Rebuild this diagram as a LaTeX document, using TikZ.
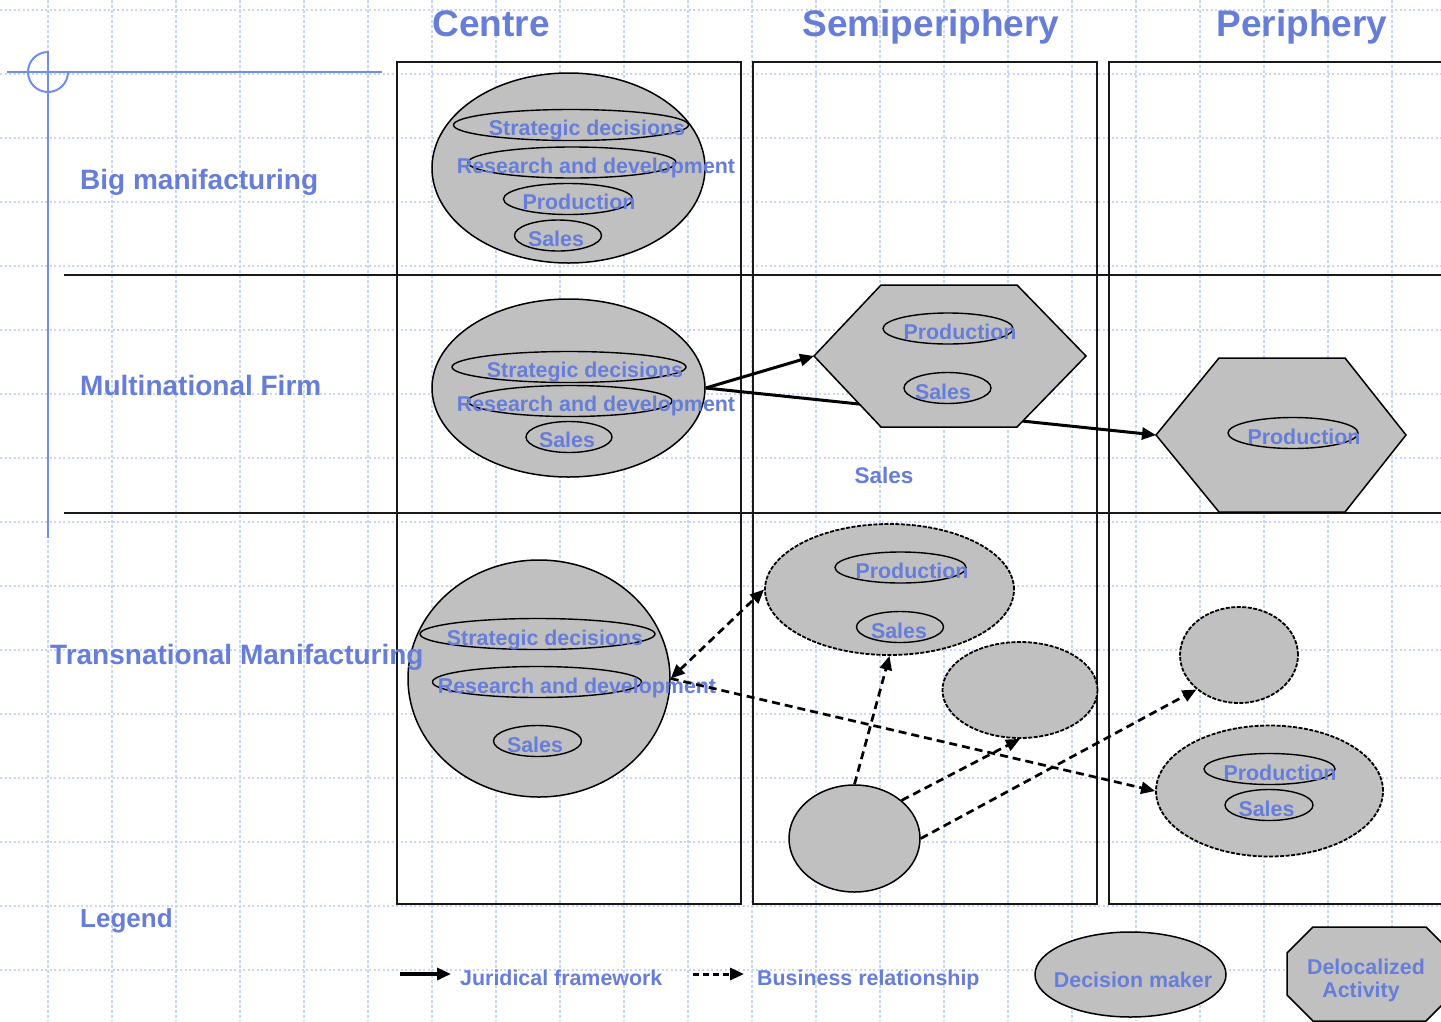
\documentclass[tikz,border=0pt]{standalone}
\usepackage{fontspec}
\setmainfont{Liberation Sans}
\usetikzlibrary{shapes.geometric,arrows.meta}

\definecolor{txtblue}{RGB}{102,125,217}
\definecolor{rulerblue}{RGB}{112,142,240}
\definecolor{gridblue}{RGB}{200,214,248}
\definecolor{shapegray}{RGB}{192,192,192}

\tikzset{
  gridv/.style={gridblue, line width=1.3pt, dash pattern=on 3pt off 2pt},
  gridh/.style={gridblue, line width=1.3pt, dash pattern=on 2pt off 2.5pt},
  frame/.style={draw=black!90, line width=1.5pt},
  holder/.style={ellipse, draw, fill=shapegray, line width=1.5pt, inner sep=0pt},
  holderdash/.style={holder, line width=1.8pt, dash pattern=on 4pt off 1.5pt},
  unit/.style={ellipse, draw, line width=1.4pt, minimum height=31pt, inner sep=0pt},
  site/.style={draw, fill=shapegray, line width=1.5pt},
  txt/.style={text=txtblue, font=\bfseries\fontsize{21.4}{25}\selectfont, inner sep=0pt, anchor=base},
  rowlabel/.style={text=txtblue, font=\bfseries\fontsize{28}{32}\selectfont, inner sep=0pt, anchor=base west},
  colhead/.style={text=txtblue, font=\bfseries\fontsize{37}{42}\selectfont, inner sep=0pt, anchor=base},
  legal/.style={line width=3pt, -{Triangle[length=14pt,width=12pt]}},
  deal/.style={line width=2.7pt, dash pattern=on 8pt off 5pt, -{Triangle[length=14pt,width=12pt]}},
  dealboth/.style={deal, {Triangle[length=14pt,width=12pt]}-{Triangle[length=14pt,width=12pt]}},
}

\begin{document}
\begin{tikzpicture}[x=1pt, y=-1pt]
\useasboundingbox (0,0) rectangle (1441,1021);
\clip (0,0) rectangle (1441,1021);
\fill[white] (0,0) rectangle (1441,1021);

% background grid
\foreach \gx in {48,112,...,1392} \draw[gridv] (\gx,0) -- (\gx,1021);
\foreach \gy in {10,74,...,970} \draw[gridh] (0,\gy) -- (1441,\gy);

% ruler mark in the upper left corner
\draw[rulerblue, line width=2pt] (7,72) -- (382,72);
\draw[rulerblue, line width=2pt] (48,51) -- (48,538);
\draw[rulerblue, line width=2pt] (48,52) arc[start angle=90, end angle=360, radius=20pt];

% column frames and row separators
\draw[frame] (397,62) rectangle (741,904);
\draw[frame] (753,62) rectangle (1097,904);
\draw[frame] (1109,62) rectangle (1460,904);
\draw[frame] (64,275) -- (1441,275);
\draw[frame] (64,513) -- (1441,513);

% column headers
\node[colhead] (hCentre) at (491,36) {Centre};
\node[colhead] (hSemi) at (931,36) {Semiperiphery};
\node[colhead] (hPeri) at (1302,36) {Periphery};

% ---- Big manufacturing
\node[holder, minimum width=273pt, minimum height=190pt] (bmC) at (568.5,168) {};
\node[unit, minimum width=235pt] (bmC1) at (571,125) {};
\node[unit, minimum width=208pt] (bmC2) at (572,162.5) {};
\node[unit, minimum width=129pt] (bmC3) at (568,199) {};
\node[unit, minimum width=87pt] (bmC4) at (558,235.5) {};
\node[txt] (bmT1) at (587,135) {Strategic decisions};
\node[txt] (bmT2) at (596,173) {Research and development};
\node[txt] (bmT3) at (579,209.5) {Production};
\node[txt] (bmT4) at (556,246) {Sales};

% ---- Multinational firm
\node[holder, minimum width=273pt, minimum height=178pt] (mfC) at (568.5,388) {};
\node[unit, minimum width=234pt] (mfC1) at (569,367) {};
\node[unit, minimum width=204pt] (mfC2) at (570,401) {};
\node[unit, minimum width=86pt] (mfC3) at (569,437) {};
\node[txt] (mfT1) at (585,377.5) {Strategic decisions};
\node[txt] (mfT2) at (596,411.5) {Research and development};
\node[txt] (mfT3) at (567,447.5) {Sales};

\coordinate (hexA-w) at (814,356);
\coordinate (hexP-w) at (1156,435);
\draw[legal] (mfC.east) -- (hexP-w);
\draw[legal] (mfC.east) -- (hexA-w);

\draw[site] (hexA-w) -- (881,285) -- (1017,285) -- (1086,356) -- (1017,427) -- (881,427) -- cycle;
\node[unit, minimum width=130pt] (hexA1) at (948,328.5) {};
\node[unit, minimum width=87pt] (hexA2) at (947.5,388) {};
\node[txt] (hexAT1) at (960,339) {Production};
\node[txt] (hexAT2) at (943,399) {Sales};

\draw[site] (hexP-w) -- (1219,358) -- (1345,358) -- (1406,435) -- (1345,512) -- (1219,512) -- cycle;
\node[unit, minimum width=130pt] (hexP1) at (1293,433) {};
\node[txt] (hexPT1) at (1304,444) {Production};

\node[txt, font=\bfseries\fontsize{22.5}{26}\selectfont] (semiSales) at (884,483) {Sales};

% ---- Transnational manufacturing
\node[holder, minimum width=262pt, minimum height=237pt] (tnCore) at (539,678.5) {};
\node[unit, minimum width=235pt] (tnCore1) at (537.5,634) {};
\node[unit, minimum width=209pt] (tnCore2) at (537,682) {};
\node[unit, minimum width=88pt] (tnCore3) at (537.5,741) {};
\node[txt] (tnT1) at (545,645) {Strategic decisions};
\node[txt] (tnT2) at (577,693) {Research and development};
\node[txt] (tnT3) at (535,752) {Sales};

\node[holderdash, minimum width=249pt, minimum height=131pt] (tnA) at (889.5,589.5) {};
\node[unit, minimum width=131pt] (tnA1) at (900.5,567.5) {};
\node[unit, minimum width=87pt] (tnA2) at (900,627) {};
\node[txt] (tnAT1) at (912,578.5) {Production};
\node[txt] (tnAT2) at (899,638) {Sales};

\node[holderdash, minimum width=155pt, minimum height=96pt] (tnB) at (1020,690) {};
\node[holder, minimum width=131pt, minimum height=107pt] (tnDm) at (854.5,838.5) {};
\node[holderdash, minimum width=118pt, minimum height=96pt] (tnD) at (1239,655) {};

\node[holderdash, minimum width=227pt, minimum height=131pt] (tnE) at (1269.5,791) {};
\node[unit, minimum width=131pt] (tnE1) at (1269.5,769) {};
\node[unit, minimum width=88pt] (tnE2) at (1269,805) {};
\node[txt] (tnET1) at (1280,780) {Production};
\node[txt] (tnET2) at (1266.5,816) {Sales};

\draw[dealboth] (tnCore.east) -- (tnA.west);
\draw[deal] (tnCore.east) -- (tnE.west);
\draw[deal] (tnDm.north) -- (tnA.south);
\draw[deal] (tnDm.39) -- (tnB.south);
\draw[deal] (tnDm.east) -- (tnD.219);

% row labels, set over the shapes
\node[rowlabel] (lBig) at (80,189) {Big manifacturing};
\node[rowlabel] (lMulti) at (80,395) {Multinational Firm};
\node[rowlabel] (lTrans) at (50,664) {Transnational Manifacturing};
\node[rowlabel, font=\bfseries\fontsize{26}{30}\selectfont] (lLegend) at (80,927) {Legend};

% ---- Legend
\coordinate (lgJ0) at (400,974);
\coordinate (lgJ1) at (451,974);
\draw[legal, line width=3.5pt] (lgJ0) -- (lgJ1);
\node[txt, anchor=base west] (lgJt) at (460,985) {Juridical framework};

\coordinate (lgB0) at (693,974);
\coordinate (lgB1) at (744,974);
\draw[deal, line width=3pt, dash pattern=on 6pt off 4pt] (lgB0) -- (lgB1);
\node[txt, anchor=base west] (lgBt) at (757,985) {Business relationship};

\node[holder, minimum width=191pt, minimum height=85pt] (lgDm) at (1130.5,974.5) {};
\node[txt] (lgDmt) at (1133,987) {Decision maker};

\draw[site] (1313,927) -- (1426,927) -- (1452,953) -- (1452,995) -- (1426,1021) -- (1313,1021) -- (1287,995) -- (1287,953) -- cycle;
\node[txt] (lgDa1) at (1366,974) {Delocalized};
\node[txt] (lgDa2) at (1361,997) {Activity};
\end{tikzpicture}
\end{document}
